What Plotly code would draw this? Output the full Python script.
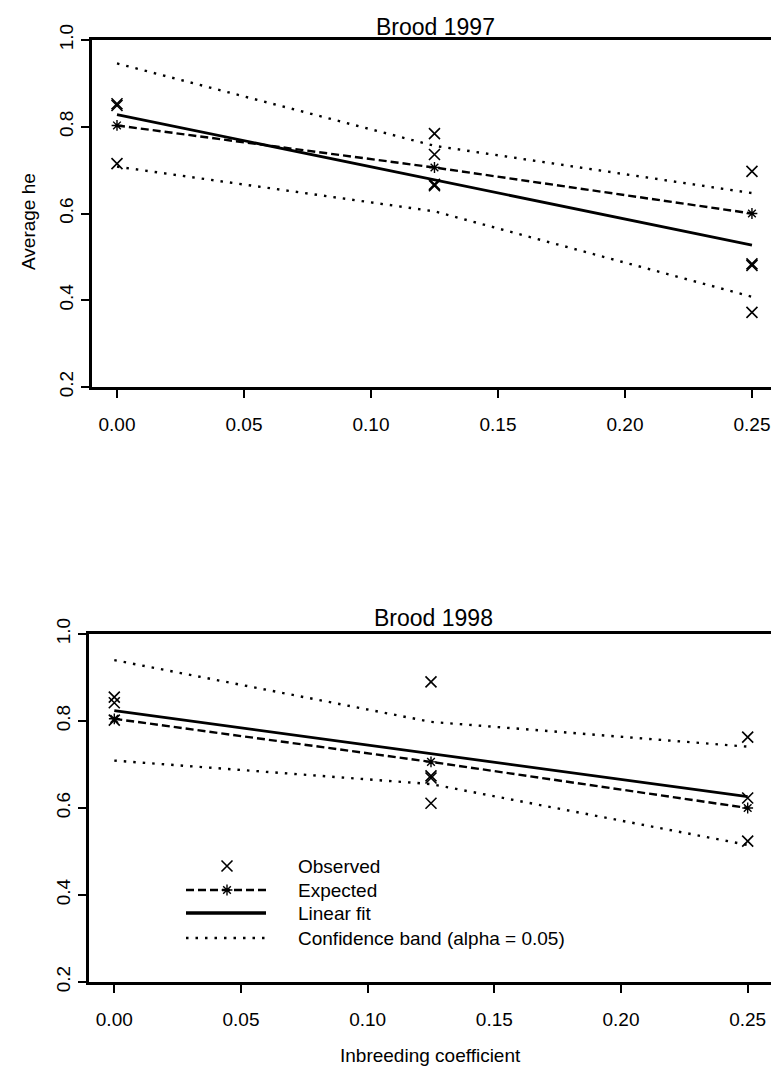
import plotly.graph_objects as go

# ---------------- data ----------------
obs97_x = [0, 0, 0, 0.125, 0.125, 0.125, 0.125, 0.25, 0.25, 0.25, 0.25]
obs97_y = [0.853, 0.849, 0.715, 0.784, 0.736, 0.667, 0.664, 0.697, 0.484, 0.480, 0.372]
obs98_x = [0, 0, 0, 0.125, 0.125, 0.125, 0.125, 0.25, 0.25, 0.25]
obs98_y = [0.855, 0.842, 0.802, 0.890, 0.674, 0.669, 0.611, 0.763, 0.623, 0.524]

exp_x = [0, 0.125, 0.25]
exp97_y = [0.803, 0.706, 0.600]
exp98_y = [0.805, 0.706, 0.600]

fit_x = [0, 0.25]
fit97_y = [0.828, 0.527]
fit98_y = [0.824, 0.626]

band_x = [0, 0.125, 0.25]
upper97 = [0.946, 0.756, 0.647]
lower97 = [0.708, 0.605, 0.408]
upper98 = [0.940, 0.798, 0.741]
lower98 = [0.709, 0.655, 0.515]

x_ticks = [0, 0.05, 0.10, 0.15, 0.20, 0.25]
y_ticks = [0.2, 0.4, 0.6, 0.8, 1.0]
titles = ["Brood 1997", "Brood 1998"]
legend_labels = ["Observed", "Expected", "Linear fit", "Confidence band (alpha = 0.05)"]

# ---------------- layout helpers ----------------
W, H = 771, 1067
FONT = "Liberation Sans, Arial, sans-serif"


def px(x):
    return x / W


def py(y):
    return 1 - y / H


fig = go.Figure()

OBS_MARKER = dict(symbol="x-thin-open", size=11, color="black", line=dict(width=1.6, color="black"))
EXP_MARKER = dict(symbol="asterisk-open", size=9, color="black", line=dict(width=1.4, color="black"))
DASH = "8px,4px"
DOT = "2.5px,7px"


def add_panel(xa, ya, ox, oy, ex, ey, fy, up, lo):
    fig.add_trace(go.Scatter(x=band_x, y=up, mode="lines", xaxis=xa, yaxis=ya,
                             line=dict(color="black", width=2.4, dash=DOT), showlegend=False))
    fig.add_trace(go.Scatter(x=band_x, y=lo, mode="lines", xaxis=xa, yaxis=ya,
                             line=dict(color="black", width=2.4, dash=DOT), showlegend=False))
    fig.add_trace(go.Scatter(x=fit_x, y=fy, mode="lines", xaxis=xa, yaxis=ya,
                             line=dict(color="black", width=2.8), showlegend=False))
    fig.add_trace(go.Scatter(x=ex, y=ey, mode="lines+markers", xaxis=xa, yaxis=ya,
                             line=dict(color="black", width=2.4, dash=DASH),
                             marker=EXP_MARKER, showlegend=False))
    fig.add_trace(go.Scatter(x=ox, y=oy, mode="markers", xaxis=xa, yaxis=ya,
                             marker=OBS_MARKER, showlegend=False))


add_panel("x", "y", obs97_x, obs97_y, exp_x, exp97_y, fit97_y, upper97, lower97)
add_panel("x2", "y2", obs98_x, obs98_y, exp_x, exp98_y, fit98_y, upper98, lower98)

# ---------------- legend (drawn on an overlay pixel axis) ----------------
leg_rows = [866, 890, 913, 938]
leg_x0, leg_x1, leg_mid, leg_text = 186, 266, 227, 296
fig.add_trace(go.Scatter(x=[leg_mid], y=[leg_rows[0]], mode="markers", xaxis="x3", yaxis="y3",
                         marker=OBS_MARKER, showlegend=False, hoverinfo="skip"))
fig.add_trace(go.Scatter(x=[leg_x0, leg_x1], y=[leg_rows[1]] * 2, mode="lines", xaxis="x3", yaxis="y3",
                         line=dict(color="black", width=2.4, dash=DASH), showlegend=False, hoverinfo="skip"))
fig.add_trace(go.Scatter(x=[leg_mid], y=[leg_rows[1]], mode="markers", xaxis="x3", yaxis="y3",
                         marker=EXP_MARKER, showlegend=False, hoverinfo="skip"))
fig.add_trace(go.Scatter(x=[leg_x0, leg_x1], y=[leg_rows[2]] * 2, mode="lines", xaxis="x3", yaxis="y3",
                         line=dict(color="black", width=3.5), showlegend=False, hoverinfo="skip"))
fig.add_trace(go.Scatter(x=[leg_x0, leg_x1], y=[leg_rows[3]] * 2, mode="lines", xaxis="x3", yaxis="y3",
                         line=dict(color="black", width=2.4, dash=DOT), showlegend=False, hoverinfo="skip"))

annotations = []
for lab, yy in zip(legend_labels, leg_rows):
    annotations.append(dict(text=lab, x=px(leg_text), y=py(yy), xref="paper", yref="paper",
                            xanchor="left", yanchor="middle", showarrow=False,
                            font=dict(family=FONT, size=19, color="black")))

# titles
annotations.append(dict(text=titles[0], x=px(435), y=py(27), xref="paper", yref="paper",
                        xanchor="center", yanchor="middle", showarrow=False,
                        font=dict(family=FONT, size=23, color="black")))
annotations.append(dict(text=titles[1], x=px(433), y=py(618), xref="paper", yref="paper",
                        xanchor="center", yanchor="middle", showarrow=False,
                        font=dict(family=FONT, size=23, color="black")))
# axis titles
annotations.append(dict(text="Average he", x=px(28), y=py(222), xref="paper", yref="paper",
                        xanchor="center", yanchor="middle", showarrow=False, textangle=-90,
                        font=dict(family=FONT, size=19, color="black")))
annotations.append(dict(text="Inbreeding coefficient", x=px(430), y=py(1055), xref="paper", yref="paper",
                        xanchor="center", yanchor="middle", showarrow=False,
                        font=dict(family=FONT, size=19, color="black")))

AX_COMMON = dict(showgrid=False, zeroline=False, showline=True, linecolor="black", linewidth=3,
                 ticks="outside", ticklen=8, tickwidth=2, tickcolor="black", automargin=False,
                 tickfont=dict(family=FONT, size=19, color="black"))

fig.update_layout(
    width=W, height=H, margin=dict(l=0, r=0, t=0, b=0, pad=0),
    paper_bgcolor="white", plot_bgcolor="rgba(0,0,0,0)", showlegend=False,
    xaxis=dict(domain=[px(92), 1.0], range=[-0.00984, 0.2575], anchor="y",
               tickvals=x_ticks, tickformat=".2f", mirror=True, ticklabelstandoff=10, **AX_COMMON),
    yaxis=dict(domain=[py(387), py(40)], range=[0.2, 1.0], anchor="x",
               tickvals=y_ticks, tickformat=".1f", tickangle=-90, **AX_COMMON),
    xaxis2=dict(domain=[px(89), 1.0], range=[-0.00998, 0.2592], anchor="y2",
                tickvals=x_ticks, tickformat=".2f", mirror=True, ticklabelstandoff=10, **AX_COMMON),
    yaxis2=dict(domain=[py(982), py(634)], range=[0.2, 1.0], anchor="x2",
                tickvals=y_ticks, tickformat=".1f", tickangle=-90, **AX_COMMON),
    xaxis3=dict(domain=[0, 1], range=[0, W], anchor="y3", visible=False, fixedrange=True,
                automargin=False),
    yaxis3=dict(domain=[0, 1], range=[H, 0], anchor="x3", visible=False, fixedrange=True,
                automargin=False),
    annotations=annotations,
)

fig.write_html("out.html", config={"displayModeBar": False},
               post_script="document.body.style.margin='0';document.body.style.overflow='hidden';")
